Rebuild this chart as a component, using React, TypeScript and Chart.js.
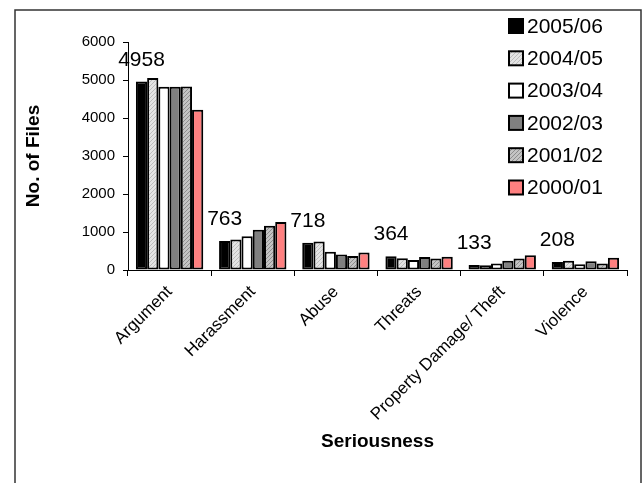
import React, { useEffect, useRef } from 'react';
import { Chart, registerables } from 'chart.js';

Chart.register(...registerables);

const categories = ['Argument', 'Harassment', 'Abuse', 'Threats', 'Property Damage/ Theft', 'Violence'];
const seriesLabels = ['2005/06', '2004/05', '2003/04', '2002/03', '2001/02', '2000/01'];
const s200506 = [4958, 763, 718, 364, 133, 208];
const s200405 = [5050, 805, 750, 310, 125, 245];
const s200304 = [4820, 885, 480, 260, 170, 150];
const s200203 = [4820, 1060, 410, 340, 245, 230];
const s200102 = [4830, 1165, 370, 300, 300, 170];
const s200001 = [4220, 1260, 460, 350, 385, 320];
const yMin = 0;
const yMax = 6000;
const yStep = 1000;

const FONT = '"Liberation Sans", Arial, sans-serif';

function makePattern(base: string, fg: string, kind: 'diag' | 'check'): CanvasPattern | string {
  const c = document.createElement('canvas');
  c.width = 4;
  c.height = 4;
  const x = c.getContext('2d');
  if (!x) return base;
  x.fillStyle = base;
  x.fillRect(0, 0, 4, 4);
  x.fillStyle = fg;
  if (kind === 'diag') {
    x.fillRect(0, 3, 1, 1);
    x.fillRect(1, 2, 1, 1);
    x.fillRect(2, 1, 1, 1);
    x.fillRect(3, 0, 1, 1);
  } else {
    x.fillRect(0, 0, 1, 1);
    x.fillRect(2, 2, 1, 1);
    x.fillRect(1, 3, 1, 1);
    x.fillRect(3, 1, 1, 1);
  }
  const p = x.createPattern(c, 'repeat');
  return p || base;
}

export default function App() {
  const ref = useRef<HTMLCanvasElement | null>(null);

  useEffect(() => {
    if (!ref.current) return;
    const colors: (string | CanvasPattern)[] = [
      '#000000',
      makePattern('#e4e4e4', '#bdbdbd', 'diag'),
      '#ffffff',
      '#808080',
      makePattern('#c4c4c4', '#8e8e8e', 'check'),
      '#ff8080',
    ];
    const seriesData = [s200506, s200405, s200304, s200203, s200102, s200001];

    const framePlugin = {
      id: 'frame',
      beforeDraw(chart: any) {
        const ctx = chart.ctx;
        ctx.save();
        ctx.fillStyle = '#ffffff';
        ctx.fillRect(0, 0, chart.width, chart.height);
        ctx.strokeStyle = '#333333';
        ctx.lineWidth = 1.5;
        ctx.strokeRect(15, 10, 626, chart.height);
        ctx.restore();
      },
    };

    const labelPlugin = {
      id: 'valueLabels',
      afterDatasetsDraw(chart: any) {
        const ctx = chart.ctx;
        const meta = chart.getDatasetMeta(0);
        const data = chart.data.datasets[0].data;
        ctx.save();
        ctx.font = `21px ${FONT}`;
        ctx.fillStyle = '#000';
        ctx.textAlign = 'center';
        ctx.textBaseline = 'alphabetic';
        meta.data.forEach((bar: any, i: number) => {
          ctx.fillText(String(data[i]), bar.x, bar.y - 16);
        });
        ctx.restore();
      },
    };

    const legendPlugin = {
      id: 'customLegend',
      afterDraw(chart: any) {
        const ctx = chart.ctx;
        ctx.save();
        ctx.font = `21px ${FONT}`;
        ctx.textBaseline = 'middle';
        ctx.textAlign = 'left';
        chart.data.datasets.forEach((ds: any, i: number) => {
          const cy = 26 + i * 32.3;
          ctx.fillStyle = ds.backgroundColor;
          ctx.fillRect(509, cy - 7, 14, 14);
          ctx.strokeStyle = '#000';
          ctx.lineWidth = 2;
          ctx.strokeRect(509, cy - 7, 14, 14);
          ctx.fillStyle = '#000';
          ctx.fillText(ds.label, 527, cy + 1);
        });
        ctx.restore();
      },
    };

    const chart = new Chart(ref.current, {
      type: 'bar',
      data: {
        labels: categories,
        datasets: seriesLabels.map((label, i) => ({
          label,
          data: seriesData[i],
          backgroundColor: colors[i] as any,
          borderColor: '#000000',
          borderWidth: 2,
          borderSkipped: false,
          categoryPercentage: 0.81,
          barPercentage: 1.0,
        })),
      },
      options: {
        responsive: false,
        animation: false,
        layout: { padding: { left: 15, top: 42, right: 15, bottom: 0 } },
        plugins: {
          legend: { display: false },
          tooltip: { enabled: false },
        },
        scales: {
          x: {
            grid: { drawOnChartArea: false, drawTicks: true, tickLength: 6, color: '#000', offset: true },
            border: { color: '#000', width: 1 },
            ticks: {
              color: '#000',
              font: { family: FONT, size: 17 },
              minRotation: 45,
              maxRotation: 45,
              autoSkip: false,
              padding: 6,
            },
            title: {
              display: true,
              text: 'Seriousness',
              color: '#000',
              font: { family: FONT, size: 19, weight: 'bold' },
              padding: { top: 0, bottom: 30 },
            },
            afterFit: (s: any) => {
              s.height = 483 - 270;
            },
          },
          y: {
            min: yMin,
            max: yMax,
            grid: { drawOnChartArea: false, drawTicks: true, tickLength: 5, color: '#000' },
            border: { color: '#000', width: 1 },
            ticks: {
              stepSize: yStep,
              color: '#000',
              font: { family: FONT, size: 15 },
              padding: 8,
              callback: (v: any) => String(v),
            },
            title: {
              display: true,
              text: 'No. of Files',
              color: '#000',
              font: { family: FONT, size: 19, weight: 'bold' },
              padding: { top: 7, bottom: 0 },
            },
            afterFit: (s: any) => {
              s.width = 128 - 15;
            },
          },
        },
      },
      plugins: [framePlugin, labelPlugin, legendPlugin],
    });
    return () => chart.destroy();
  }, []);

  return (
    <div style={{ position: 'absolute', left: 0, top: 0, width: 642, height: 483 }}>
      <canvas ref={ref} width={642} height={483} />
    </div>
  );
}
